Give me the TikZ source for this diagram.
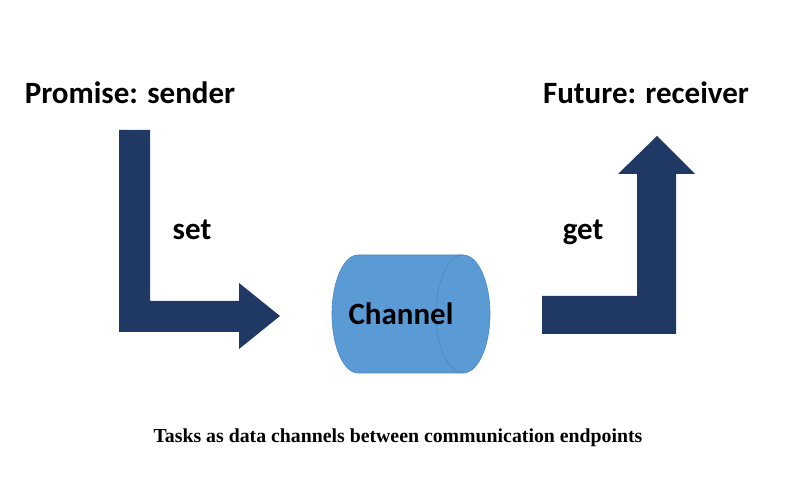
\documentclass[tikz,border=0pt]{standalone}
\usepackage{fontspec}
\setmainfont{Carlito}
\newfontfamily\captionfont{Liberation Serif}
\usetikzlibrary{calc}
\definecolor{navy}{HTML}{203864}
\definecolor{chanblue}{HTML}{5B9BD5}
\definecolor{chanedge}{HTML}{4A86C2}

\begin{document}
\begin{tikzpicture}[x=1pt, y=-1pt]
  \tikzset{
    heading/.style={anchor=base, font=\bfseries\fontsize{31}{37}\selectfont},
    label/.style={anchor=base, font=\bfseries\fontsize{31}{37}\selectfont},
    blockarrow/.style={fill=navy, draw=none},
  }
  \useasboundingbox (0,0) rectangle (788,502);

  \node[heading] (promise) at (130, 104) {Promise: sender};
  \node[heading] (future) at (646, 104) {Future: receiver};

  \node[label] (set) at (192, 240) {set};
  \node[label] (get) at (583, 240) {get};

  % sender arrow, down then right
  \coordinate (S1) at (119, 130);
  \coordinate (S2) at (280, 316);
  \fill[blockarrow]
    (S1) -- ++(31, 0) -- (150, 301) -- (239, 301) -- (239, 283)
    -- (S2) -- (239, 349) -- (239, 332) -- (119, 332) -- cycle;

  % receiver arrow, right then up
  \coordinate (R1) at (542, 296);
  \coordinate (R2) at (657, 136);
  \fill[blockarrow]
    (R1) -- (637, 296) -- (637, 174) -- (618, 174) -- (R2)
    -- (695, 174) -- (676, 174) -- (676, 334) -- (542, 334) -- cycle;

  % channel cylinder
  \filldraw[fill=chanblue, draw=chanedge, line width=0.6pt]
    (463, 255) -- (358, 255)
    arc[start angle=270, end angle=90, x radius=26, y radius=59]
    -- (463, 373)
    arc[start angle=90, end angle=-90, x radius=27, y radius=59];
  \draw[chanedge, line width=0.6pt]
    (463, 255) arc[start angle=270, end angle=90, x radius=27, y radius=59];
  \node[label] (channel) at (401, 325) {Channel};

  \node[anchor=base, font=\captionfont\bfseries\fontsize{19.8}{24}\selectfont]
    (caption) at (398, 443) {Tasks as data channels between communication endpoints};
\end{tikzpicture}
\end{document}
